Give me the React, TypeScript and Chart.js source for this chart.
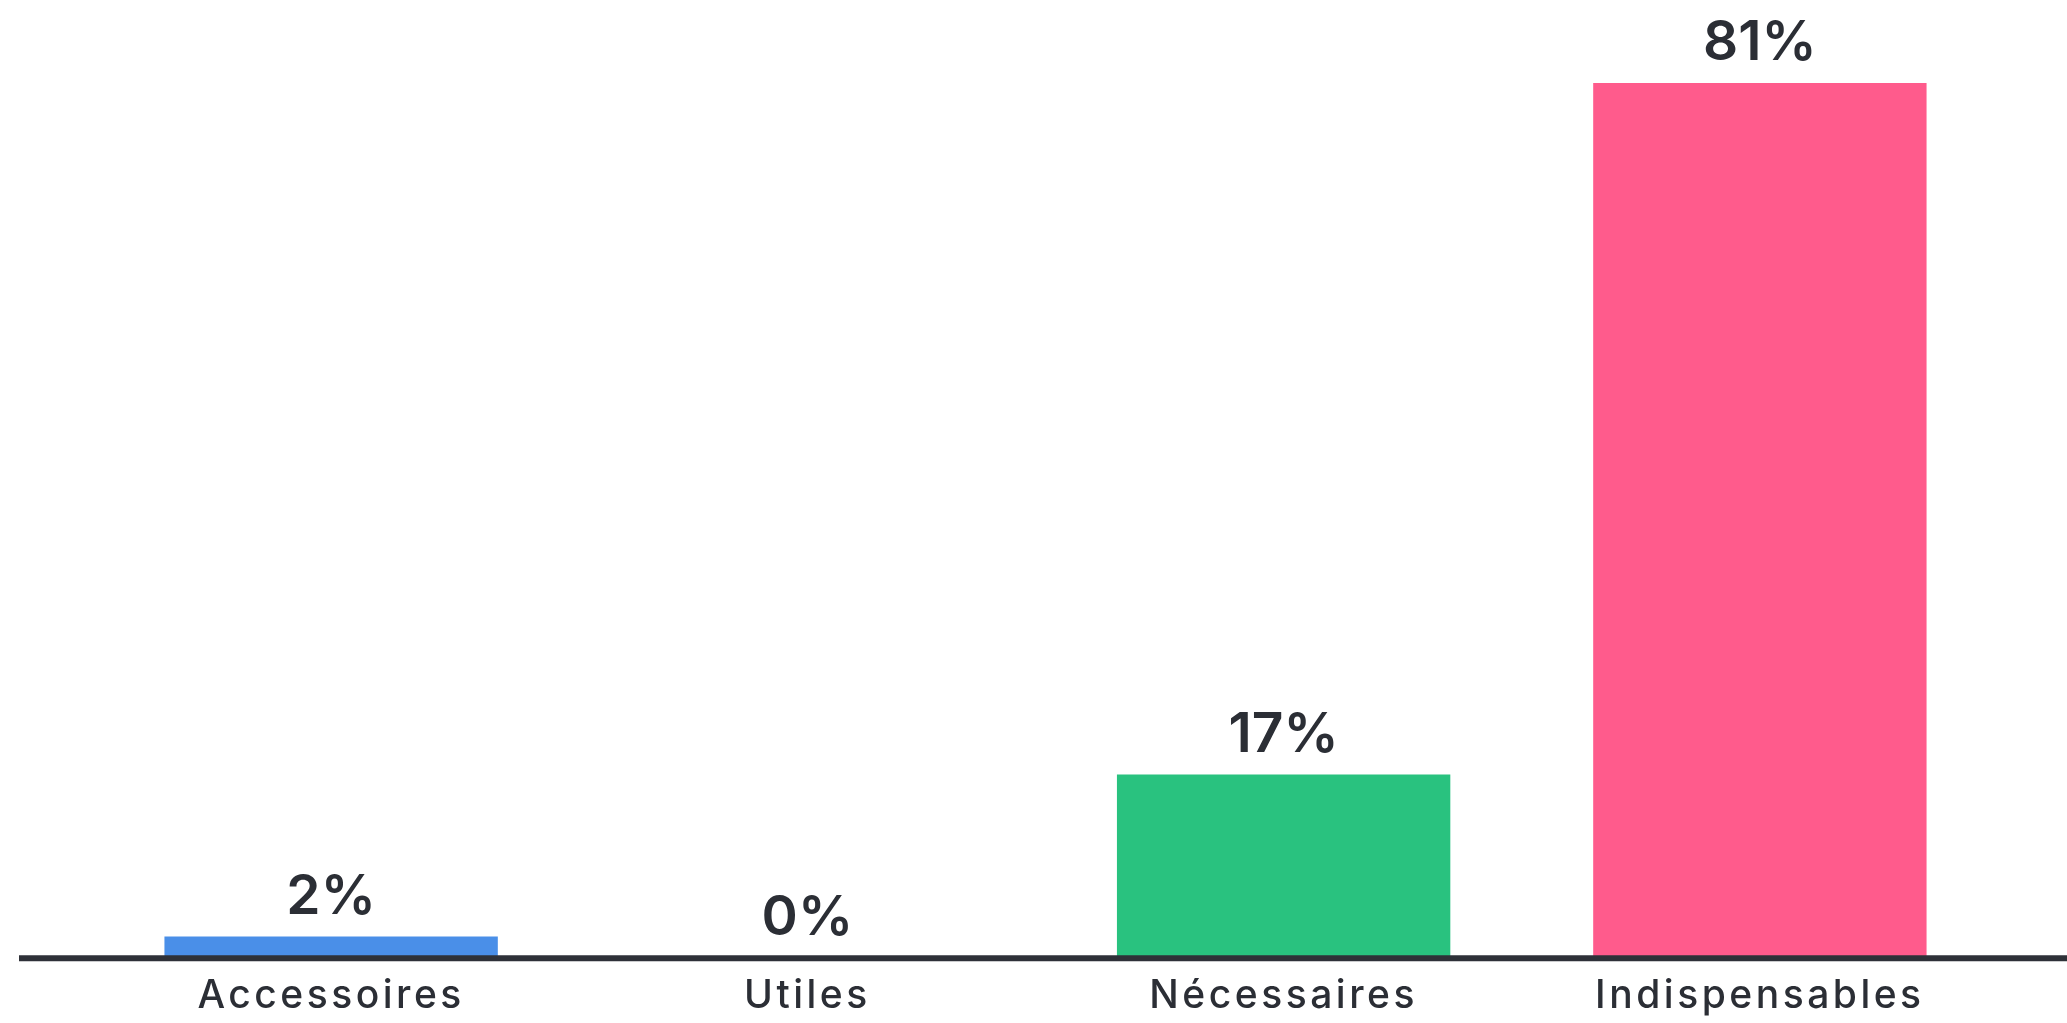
import React, { useEffect, useRef } from "react";
import { Chart, registerables } from "chart.js";

Chart.register(...registerables);

const categories = ["Accessoires", "Utiles", "Nécessaires", "Indispensables"];
const values = [2, 0, 17, 81];
const valueSuffix = "%";
const barColors = ["#4a8fe8", "#f5a623", "#29c27f", "#ff5b8c"];

const textColor = "#2b2e35";
const axisColor = "#2e3138";

const baselinePlugin = {
  id: "baselineAndValues",
  beforeDraw(chart: any) {
    (chart.ctx as any).letterSpacing = "3.5px";
  },
  beforeDatasetsDraw(chart: any) {
    (chart.ctx as any).letterSpacing = "0px";
  },
  afterDatasetsDraw(chart: any) {
    const ctx = chart.ctx;
    const area = chart.chartArea;
    ctx.save();
    ctx.strokeStyle = axisColor;
    ctx.lineWidth = 6;
    ctx.beginPath();
    ctx.moveTo(19, area.bottom);
    ctx.lineTo(chart.width, area.bottom);
    ctx.stroke();
    ctx.restore();

    const meta = chart.getDatasetMeta(0);
    ctx.save();
    (ctx as any).letterSpacing = "0px";
    ctx.fillStyle = textColor;
    ctx.font = "600 55px Inter";
    ctx.textAlign = "center";
    ctx.textBaseline = "alphabetic";
    meta.data.forEach((bar: any, i: number) => {
      ctx.fillText(values[i] + valueSuffix, bar.x, bar.y - 23);
    });
    ctx.restore();
  },
};

export default function App() {
  const ref = useRef<HTMLCanvasElement | null>(null);
  useEffect(() => {
    if (!ref.current) return;
    const chart = new Chart(ref.current, {
      type: "bar",
      data: {
        labels: categories,
        datasets: [
          {
            data: values,
            backgroundColor: barColors,
            borderWidth: 0,
            barPercentage: 0.7,
            categoryPercentage: 1,
          },
        ],
      },
      options: {
        animation: false,
        responsive: true,
        maintainAspectRatio: false,
        layout: { padding: { left: 93, right: 69, top: 83, bottom: -12 } },
        plugins: { legend: { display: false }, tooltip: { enabled: false } },
        scales: {
          x: {
            grid: { display: false, drawTicks: false },
            border: { display: false },
            ticks: {
              color: textColor,
              padding: 15,
              font: { family: "Inter", size: 39, weight: 500, lineHeight: 1.2 },
            },
          },
          y: {
            display: false,
            min: 0,
            max: Math.max(...values),
          },
        },
      },
      plugins: [baselinePlugin],
    });
    return () => chart.destroy();
  }, []);
  return (
    <div style={{ position: "fixed", left: 0, top: 0, width: "2067px", height: "1023px", background: "#fff" }}>
      <canvas ref={ref} />
    </div>
  );
}
